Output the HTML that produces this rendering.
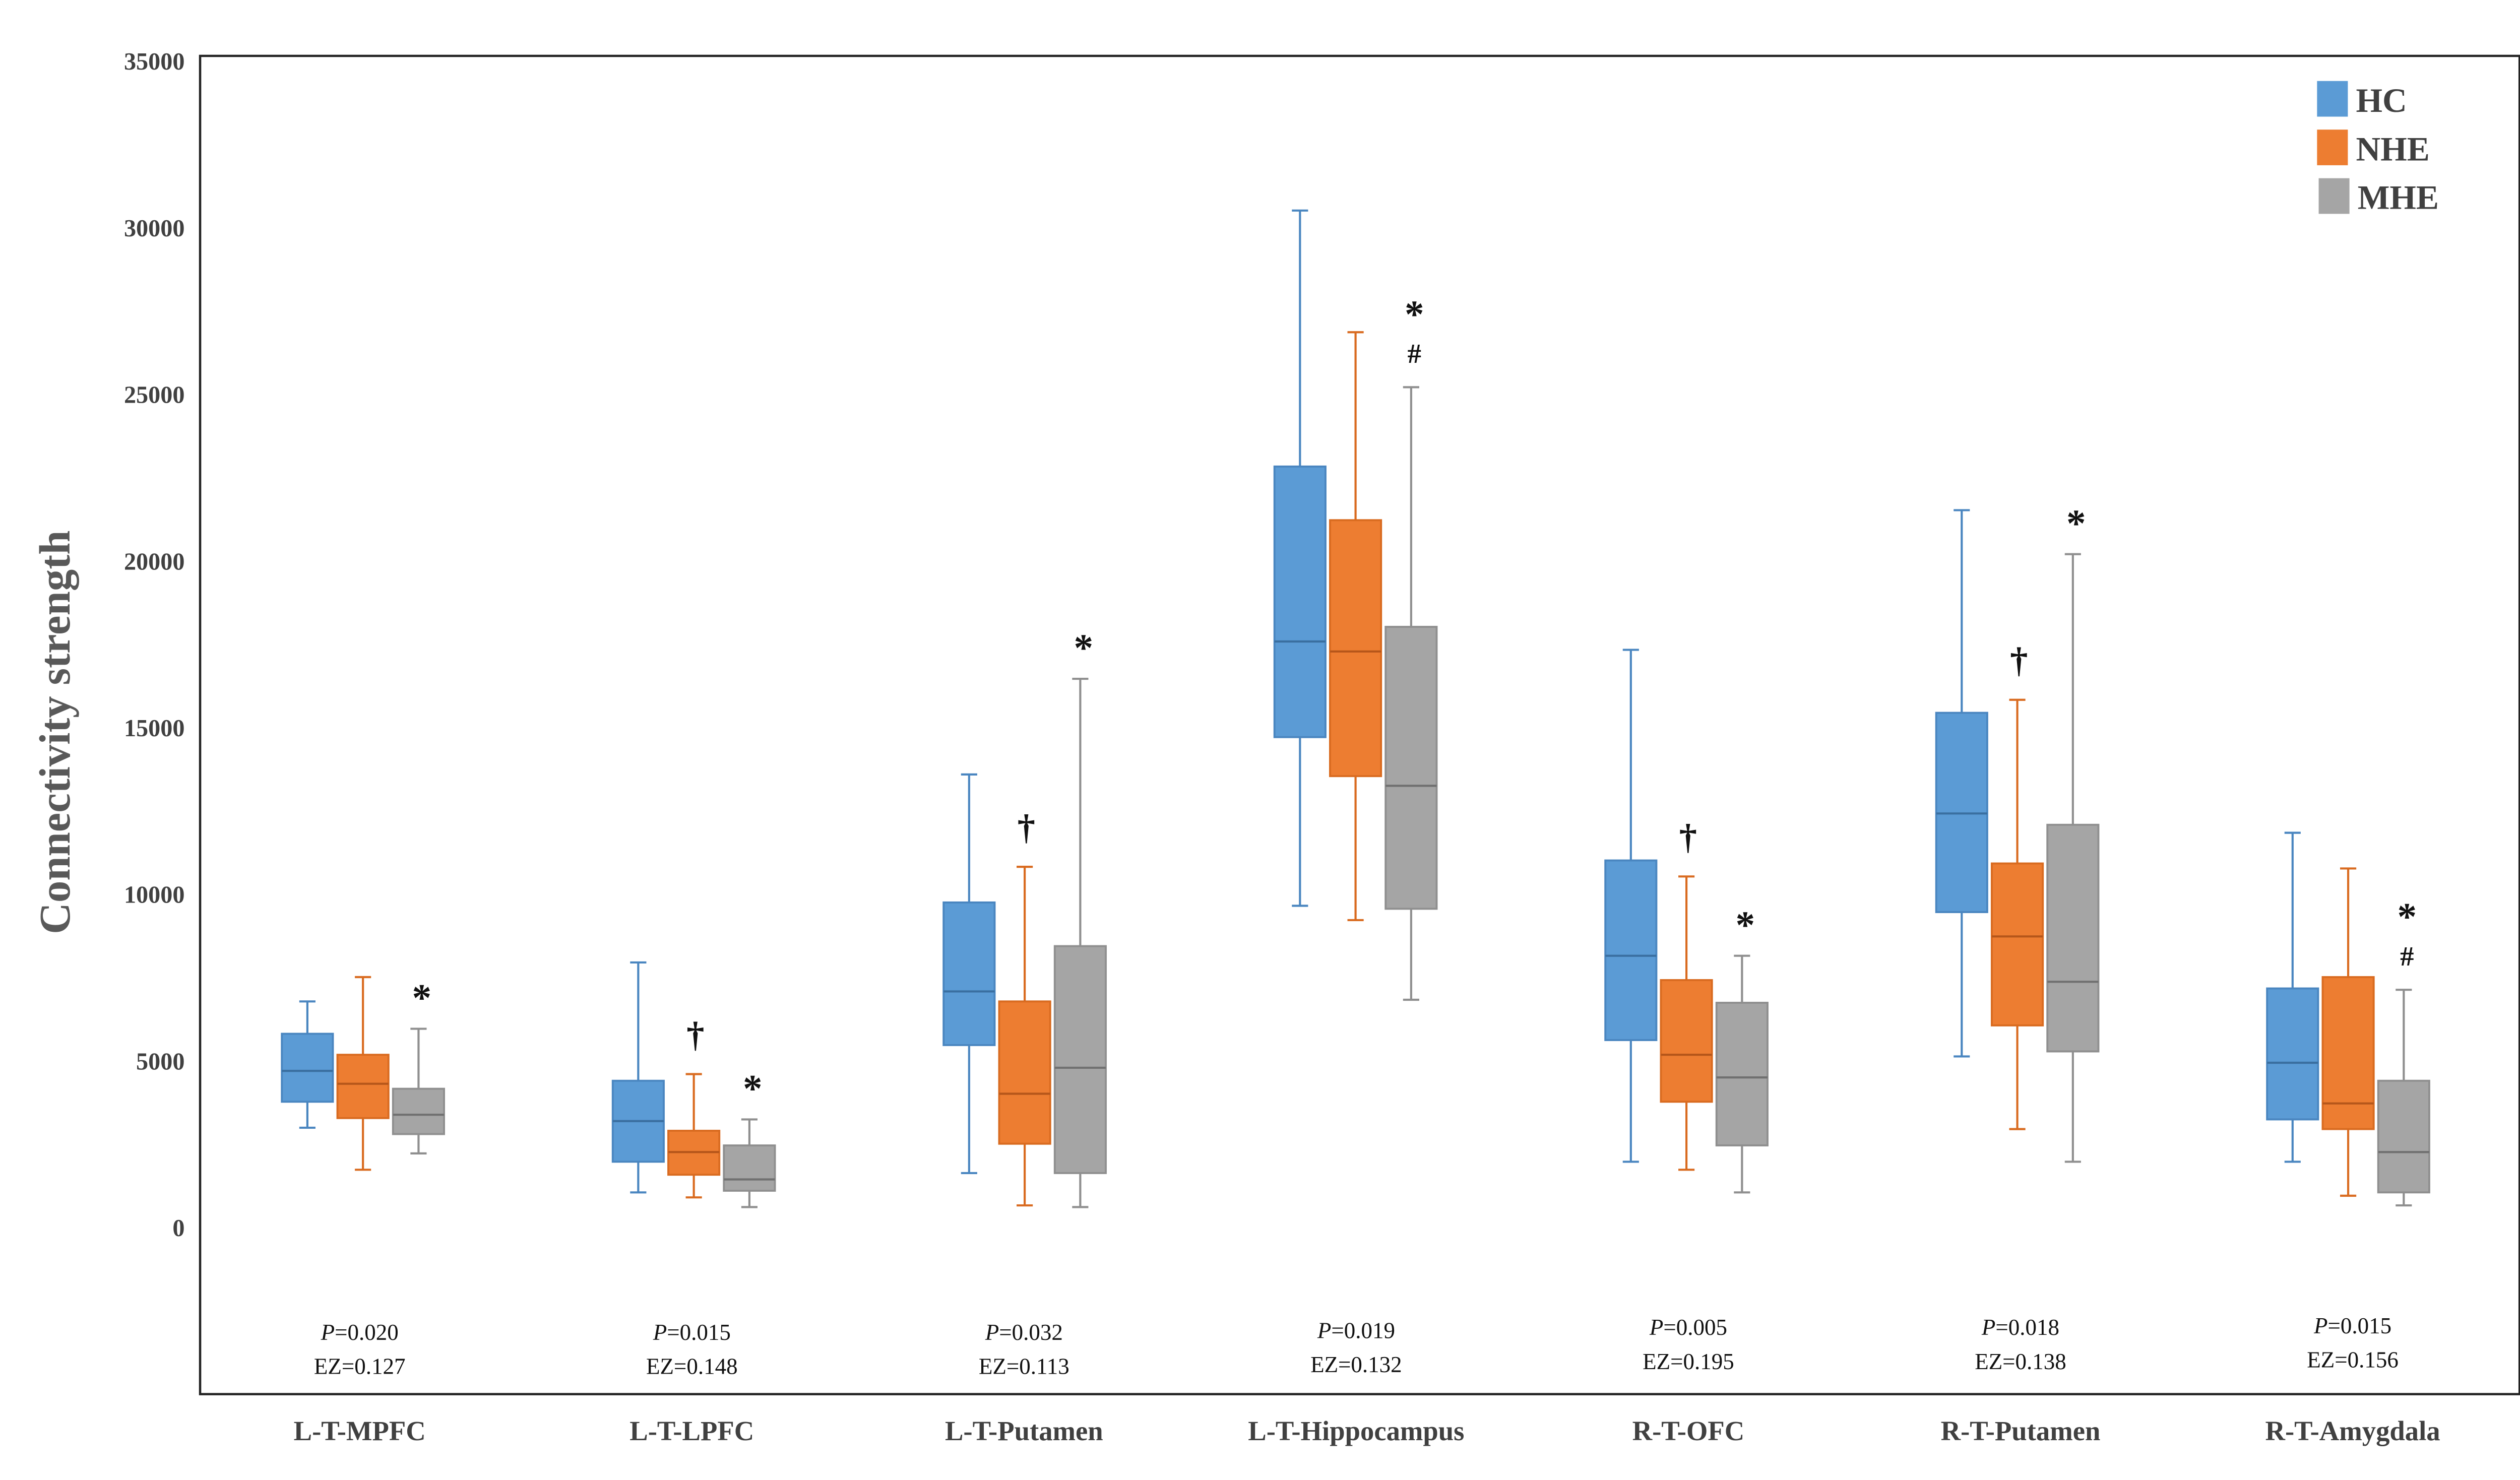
<!DOCTYPE html>
<html><head><meta charset="utf-8">
<style>
html,body{margin:0;padding:0;background:#fff;}
svg{display:block;}
text{font-family:"Liberation Serif",serif;}
</style></head>
<body>
<svg id="chart" width="5041" height="2937" viewBox="0 0 1568 913.5" preserveAspectRatio="none" xmlns="http://www.w3.org/2000/svg">
<rect x="0" y="0" width="1568" height="913.5" fill="#fff"/>
<rect x="123.5" y="34.5" width="1431.5" height="826" fill="none" stroke="#222" stroke-width="1.4"/>
<text transform="translate(43,452) rotate(-90)" text-anchor="middle" font-size="27" font-weight="bold" fill="#595959">Connectivity strength</text>
<g id="yticks"></g>
<g id="boxes"></g>
<g id="annots"></g>
<g id="cats"></g>
<g>
<rect x="1430" y="50" width="19" height="22" fill="#5B9BD5"/>
<text x="1454" y="69" font-size="21" font-weight="bold" fill="#404040">HC</text>
<rect x="1430" y="80" width="19" height="22" fill="#ED7D31"/>
<text x="1454" y="99" font-size="21" font-weight="bold" fill="#404040">NHE</text>
<rect x="1431" y="110" width="19" height="22" fill="#A5A5A5"/>
<text x="1455" y="129" font-size="21" font-weight="bold" fill="#404040">MHE</text>
</g>
</svg>
<script>
const categories=["L-T-MPFC","L-T-LPFC","L-T-Putamen","L-T-Hippocampus","R-T-OFC","R-T-Putamen","R-T-Amygdala"];
const groups=["HC","NHE","MHE"];
const yTicks=[0,5000,10000,15000,20000,25000,30000,35000];
// [min,q1,median,q3,max] per category
const hcStats=[[3010,3790,4716,5830,6800],[1070,1990,3210,4420,7970],[1650,5490,7100,9770,13610],[9670,14730,17600,22850,30530],[1990,5640,8170,11030,17350],[5150,9480,12440,15460,21540],[1990,3260,4960,7190,11860]];
const nheStats=[[1750,3300,4330,5200,7530],[920,1600,2280,2920,4620],[680,2530,4030,6800,10840],[9240,13560,17300,21240,26880],[1750,3790,5200,7440,10550],[2970,6080,8750,10940,15850],[970,2970,3740,7530,10790]];
const mheStats=[[2240,2820,3400,4180,5980],[630,1120,1460,2480,3260],[630,1650,4810,8460,16480],[6850,9580,13270,18040,25230],[1070,2480,4520,6760,8170],[1990,5300,7390,12100,20220],[680,1070,2280,4420,7150]];
const pValues=["0.020","0.015","0.032","0.019","0.005","0.018","0.015"];
const ezValues=["0.127","0.148","0.113","0.132","0.195","0.138","0.156"];
const nheMarks=["","†","†","","†","†",""];
const mheMarks=[["*"],["*"],["*"],["*","#"],["*"],["*"],["*","#"]];
const pTextY=[822,822,822,821,819,819,818];

const NS="http://www.w3.org/2000/svg";
const yScale=v=>758-v*(720/35000);
const xCenter=i=>224+i*204.2;
const labelX=i=>222+i*205;
const gOff=[-34.3,0,34.3];
const fills=["#5B9BD5","#ED7D31","#A5A5A5"];
const strokes=["#4A86C0","#D96B20","#8F8F8F"];
const meds=["#3A6FA0","#B5561A","#707070"];
const allStats=[hcStats,nheStats,mheStats];
function el(tag,attrs,parent){const e=document.createElementNS(NS,tag);for(const k in attrs)e.setAttribute(k,attrs[k]);parent.appendChild(e);return e;}

const yt=document.getElementById('yticks');
yTicks.forEach(v=>{
  const t=el('text',{x:114,y:yScale(v)+5,'text-anchor':'end','font-size':'15','font-weight':'bold',fill:'#404040'},yt);
  
  
  t.textContent=v;
});

const bx=document.getElementById('boxes');
const an=document.getElementById('annots');
const ct=document.getElementById('cats');
categories.forEach((c,i)=>{
  const cx=xCenter(i);
  allStats.forEach((arr,g)=>{
    const s=arr[i];const x=cx+gOff[g];const w=31.5;
    const gg=el('g',{},bx);
    
    
    el('line',{x1:x,x2:x,y1:yScale(s[4]),y2:yScale(s[3]),stroke:strokes[g],'stroke-width':1.3},gg);
    el('line',{x1:x,x2:x,y1:yScale(s[1]),y2:yScale(s[0]),stroke:strokes[g],'stroke-width':1.3},gg);
    el('line',{x1:x-5,x2:x+5,y1:yScale(s[4]),y2:yScale(s[4]),stroke:strokes[g],'stroke-width':1.3},gg);
    el('line',{x1:x-5,x2:x+5,y1:yScale(s[0]),y2:yScale(s[0]),stroke:strokes[g],'stroke-width':1.3},gg);
    el('rect',{x:x-w/2,y:yScale(s[3]),width:w,height:yScale(s[1])-yScale(s[3]),fill:fills[g],stroke:strokes[g],'stroke-width':1.2},gg);
    el('line',{x1:x-w/2,x2:x+w/2,y1:yScale(s[2]),y2:yScale(s[2]),stroke:meds[g],'stroke-width':1.3},gg);
  });
  if(nheMarks[i]){
    const t=el('text',{x:cx+gOff[1]+1,y:yScale(nheStats[i][4])-17,'text-anchor':'middle','font-size':'22','font-weight':'bold',fill:'#111'},an);
    
    
    t.textContent=nheMarks[i];
  }
  const mk=mheMarks[i];
  const top=yScale(mheStats[i][4]);
  mk.forEach((m)=>{
    let yy;
    if(mk.length>1){yy = m==="#" ? top-15 : top-37;}
    else {yy = top-11;}
    const t=el('text',{x:cx+gOff[2]+2,y:yy,'text-anchor':'middle','font-size':m==="*"?'24':'17','font-weight':'bold',fill:'#111'},an);
    
    
    t.textContent=m;
  });
  const lx=labelX(i);
  const p=el('text',{x:lx,y:pTextY[i]+5,'text-anchor':'middle','font-size':'14',fill:'#111'},an);
  
  
  p.innerHTML='<tspan font-style="italic">P</tspan>='+pValues[i];
  const e=el('text',{x:lx,y:pTextY[i]+26,'text-anchor':'middle','font-size':'14',fill:'#111'},an);
  
  
  e.textContent='EZ='+ezValues[i];
  const t=el('text',{x:lx,y:889,'text-anchor':'middle','font-size':'17','font-weight':'bold',fill:'#404040'},ct);
  
  
  t.textContent=c;
});
</script>
</body></html>
